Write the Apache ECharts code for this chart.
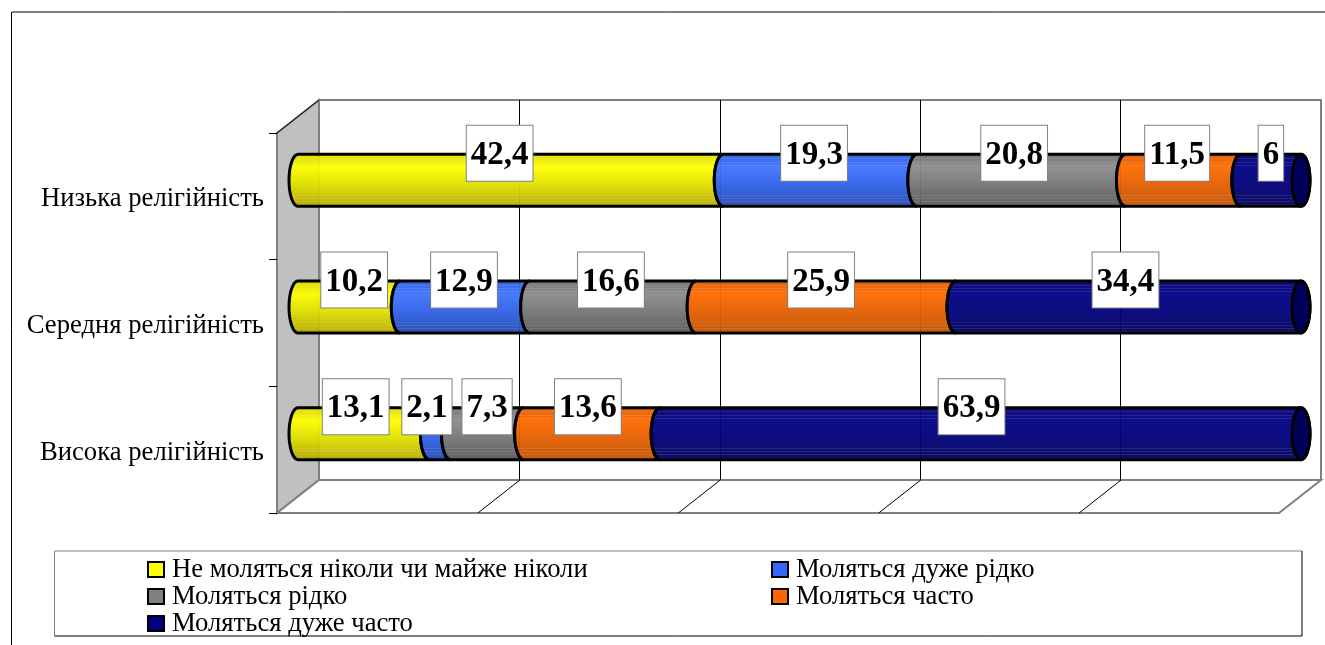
<!DOCTYPE html>
<html><head><meta charset="utf-8">
<style>html,body{margin:0;padding:0;background:#fff}#c{width:1325px;height:645px}</style>
<script src="https://cdn.jsdelivr.net/npm/echarts@6/dist/echarts.min.js"></script>
</head><body><div id="c"></div>
<script>
// Data (category order: bottom to top)
var categories = ['Висока релігійність', 'Середня релігійність', 'Низька релігійність'];
var seriesNames = ['Не моляться ніколи чи майже ніколи', 'Моляться дуже рідко', 'Моляться рідко', 'Моляться часто', 'Моляться дуже часто'];
var neverValues = [13.1, 10.2, 42.4];
var veryRareValues = [2.1, 12.9, 19.3];
var rareValues = [7.3, 16.6, 20.8];
var oftenValues = [13.6, 25.9, 11.5];
var veryOftenValues = [63.9, 34.4, 6];
var valueTable = [neverValues, veryRareValues, rareValues, oftenValues, veryOftenValues];

// Styling
var baseColors = ['#ffff00', '#3366ff', '#808080', '#ff6600', '#000080'];
var ramps = [
  ['#dcdc00', '#ffff00', '#dede00', '#b4a800'],
  ['#2f5ee0', '#3f73ff', '#2f60e6', '#2448b0'],
  ['#707070', '#8c8c8c', '#747474', '#585858'],
  ['#e05a00', '#ff6a00', '#e35e00', '#c05000'],
  ['#000070', '#000088', '#000078', '#00005c']
];
var rampPos = [0, 0.25, 0.6, 1];
var stripes = [0.07, 0.14, 0.2, 0.78, 0.84, 0.9, 0.96];
var capColor = '#00005a';
var RX = 9;
var FONT = '"Liberation Serif","Times New Roman",serif';
// small horizontal nudges of the value boxes
var labelNudge = [[-8, 5, -11], [-13, -1, -6], [0, -2, -7], [-4, -5, -6], [-9, -3, 0]];

function rgb(h) { return [parseInt(h.substr(1,2),16), parseInt(h.substr(3,2),16), parseInt(h.substr(5,2),16)]; }
function css(c) { return 'rgb(' + c.map(Math.round).join(',') + ')'; }
function rampAt(r, t) {
  for (var i = 0; i < rampPos.length - 1; i++) {
    if (t <= rampPos[i + 1]) {
      var f = (t - rampPos[i]) / (rampPos[i + 1] - rampPos[i]);
      var a = rgb(r[i]), b = rgb(r[i + 1]);
      return [a[0] + (b[0]-a[0])*f, a[1] + (b[1]-a[1])*f, a[2] + (b[2]-a[2])*f];
    }
  }
  return rgb(r[r.length - 1]);
}
function gradient(r) {
  var stops = [];
  rampPos.forEach(function (p) { stops.push({offset:p, color:css(rampAt(r, p))}); });
  stripes.forEach(function (p) {
    var c = rampAt(r, p);
    var t = c.map(function (v) { return v + (255 - v) * 0.1; });
    stops.push({offset:p - 0.001, color:css(c)}, {offset:p, color:css(t)}, {offset:p + 0.018, color:css(t)}, {offset:p + 0.019, color:css(c)});
  });
  stops.sort(function (a, b) { return a.offset - b.offset; });
  return {type:'linear', x:0, y:0, x2:0, y2:1, colorStops:stops};
}
function arc(cx, cy, rx, ry, from, to) {
  var pts = [];
  for (var i = 0; i <= 24; i++) {
    var a = from + (to - from) * i / 24;
    pts.push([cx + rx * Math.cos(a), cy + ry * Math.sin(a)]);
  }
  return pts;
}
function makeSeries(si) {
  var isLast = si === valueTable.length - 1;
  var rows = categories.map(function (c, ci) {
    var start = 0;
    for (var k = 0; k < si; k++) start += valueTable[k][ci];
    return [start, ci, start + valueTable[si][ci], valueTable[si][ci]];
  });
  return {
    type: 'custom', name: seriesNames[si], xAxisIndex: 0, yAxisIndex: 0,
    itemStyle: {color: baseColors[si]},
    encode: {x: [0, 2], y: 1},
    data: rows,
    clip: false,
    renderItem: function (params, api) {
      var a = api.coord([api.value(0), api.value(1)]);
      var b = api.coord([api.value(2), api.value(1)]);
      var ry = api.size([0, 1])[1] * 0.41 / 2;
      var cy = a[1];
      var end = isLast ? arc(b[0], cy, RX, ry, Math.PI / 2, -Math.PI / 2)
                       : arc(b[0], cy, RX, ry, Math.PI / 2, 3 * Math.PI / 2);
      var pts = arc(a[0], cy, RX, ry, -Math.PI / 2, -3 * Math.PI / 2).concat(end);
      var kids = [{
        type: 'polygon', z2: 10 + si, shape: {points: pts},
        style: {fill: gradient(ramps[si]), opacity: 0.95}
      }, {
        type: 'polygon', z2: 11 + si, shape: {points: pts},
        style: {fill: 'none', stroke: '#000', lineWidth: 3}
      }];
      if (isLast) {
        kids.push({
          type: 'ellipse', z2: 20, shape: {cx: b[0], cy: cy, rx: RX, ry: ry},
          style: {fill: capColor, stroke: '#000', lineWidth: 3}
        });
      }
      var lx = (a[0] + b[0]) / 2 + labelNudge[si][params.dataIndex];
      var txt = String(api.value(3)).replace('.', ',');
      kids.push({
        type: 'text', z2: 100,
        style: {
          x: lx, y: cy - 27, text: txt, align: 'center', verticalAlign: 'middle',
          font: 'bold 33px ' + FONT, fill: 'rgba(0,0,0,0)', lineHeight: 33,
          backgroundColor: '#fff', borderColor: '#808080', borderWidth: 1,
          padding: [11, 4, 11, 4]
        }
      });
      kids.push({
        type: 'text', z2: 101,
        style: {
          x: lx, y: cy - 25, text: txt, align: 'center', verticalAlign: 'middle',
          font: 'bold 33px ' + FONT, fill: '#000', lineHeight: 33
        }
      });
      return {type: 'group', children: kids};
    }
  };
}

// 3D box decoration
var gray = '#808080';
var graphicEls = [
  {type:'line', z:-1, shape:{x1:12,y1:12,x2:1325,y2:12}, style:{stroke:'#000',lineWidth:1}},
  {type:'line', z:-1, shape:{x1:11.5,y1:12,x2:11.5,y2:645}, style:{stroke:'#000',lineWidth:1}},
  {type:'polygon', z:-1, shape:{points:[[277,133],[319,100],[319,480],[277,513]]}, style:{fill:'#c0c0c0',stroke:gray,lineWidth:2}},
  {type:'polygon', z:-1, shape:{points:[[277,513],[319,480],[1321,480],[1279,513]]}, style:{fill:'#fff',stroke:gray,lineWidth:2}},
  {type:'rect', z:-1, shape:{x:319,y:100,width:1002,height:380}, style:{fill:'none',stroke:gray,lineWidth:2}},
  {type:'line', z:-1, shape:{x1:277,y1:133,x2:319,y2:100}, style:{stroke:'#000',lineWidth:1}},
  {type:'polyline', z:-1, shape:{points:[[54.5,636],[54.5,551],[1302,551]]}, style:{fill:'none',stroke:gray,lineWidth:1}},
  {type:'polyline', z:-1, shape:{points:[[54.5,636],[1302,636],[1302,551]]}, style:{fill:'none',stroke:'#000',lineWidth:1}}
];
[1, 2, 3, 4].forEach(function (k) {
  var x = 319.5 + 200.4 * k;
  graphicEls.push({type:'line', z:-1, shape:{x1:x,y1:480,x2:x-42,y2:513}, style:{stroke:'#000',lineWidth:1}});
});

function hiddenX(i) { return {type:'value', gridIndex:i, min:0, max:100, show:false}; }
var legendBase = {orient:'vertical', padding:0, itemGap:0, itemWidth:16, itemHeight:15, icon:'rect',
  selectedMode:false, textStyle:{fontFamily:FONT, fontSize:26.67, color:'#000', lineHeight:26, padding:[0,0,0,3]},
  itemStyle:{borderColor:'#000', borderWidth:2}};

var chart = echarts.init(document.getElementById('c'), null, {renderer:'canvas'});
chart.setOption({
  animation: false,
  backgroundColor: '#fff',
  grid: [
    {left:298, top:117, width:1003, height:380},
    {left:277, top:133, width:1002, height:380},
    {left:319, top:100, width:1002, height:380},
    {left:277, top:136, width:1002, height:380}
  ],
  xAxis: [
    hiddenX(0), hiddenX(1),
    {type:'value', gridIndex:2, min:0, max:100, interval:20,
      axisLine:{show:false}, axisTick:{show:false}, axisLabel:{show:false},
      splitLine:{show:true, showMinLine:false, showMaxLine:false, lineStyle:{color:'#000', width:1, type:'solid'}}},
    hiddenX(3)
  ],
  yAxis: [
    {type:'category', gridIndex:0, data:categories, show:false},
    {type:'category', gridIndex:1, data:categories,
      axisLine:{show:false}, axisLabel:{show:false},
      axisTick:{show:true, length:8, inside:false, lineStyle:{color:'#000', width:1}}},
    {type:'category', gridIndex:2, data:categories, show:false},
    {type:'category', gridIndex:3, data:categories,
      axisLine:{show:false}, axisTick:{show:false},
      axisLabel:{margin:13, fontFamily:FONT, fontSize:26.67, color:'#000'}}
  ],
  legend: [
    Object.assign({}, legendBase, {left:147, top:556, data:[seriesNames[0], seriesNames[2], seriesNames[4]]}),
    Object.assign({}, legendBase, {left:771, top:556, data:[seriesNames[1], seriesNames[3]]})
  ],
  graphic: {elements: graphicEls},
  series: valueTable.map(function (v, i) { return makeSeries(i); })
});
</script></body></html>
